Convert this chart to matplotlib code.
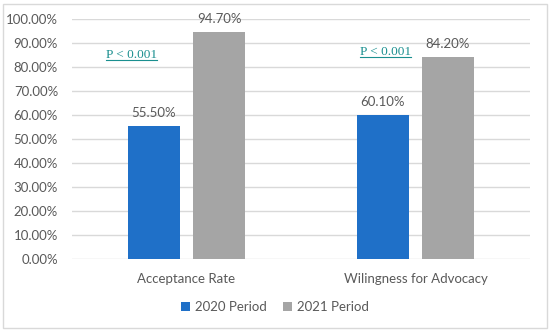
import numpy as np
import matplotlib
matplotlib.use("Agg")
import matplotlib.pyplot as plt
from matplotlib.patches import Rectangle

########################################################
# DATA
########################################################

CATEGORIES = ["Acceptance Rate", "Wilingness for Advocacy"]
SERIES = ["2020 Period", "2021 Period"]
VALUES_2020 = [55.50, 60.10]
VALUES_2021 = [94.70, 84.20]
P_LABELS = ["P < 0.001", "P < 0.001"]
P_POS = [(-0.24, 82.3), (0.87, 83.6)]

COLORS = ["#1F70C8", "#A5A5A5"]
TEXT_GRAY = "#595959"
TEAL = "#1A8F8F"

plt.rcParams["font.family"] = ["Lato", "DejaVu Sans"]

########################################################
# FIGURE
########################################################

fig = plt.figure(figsize=(5.5, 3.32), dpi=100)
ax = fig.add_axes([72 / 550, 1 - 259 / 332, 458 / 550, 240 / 332])

x = np.arange(len(CATEGORIES))
width = 0.223
offset = 0.142

for i, (vals, name) in enumerate(zip([VALUES_2020, VALUES_2021], SERIES)):
    pos = x + (offset if i else -offset)
    bars = ax.bar(pos, vals, width, color=COLORS[i], label=name, zorder=3)
    for b, v in zip(bars, vals):
        ax.text(b.get_x() + b.get_width() / 2, v + 3, f"{v:.2f}%",
                ha="center", va="bottom", fontsize=9.5, color=TEXT_GRAY)

ax.set_xlim(-0.5, 1.5)
ax.set_ylim(0, 100)
ax.set_yticks(np.arange(0, 101, 10))
ax.set_yticklabels([f"{t:.2f}%" for t in range(0, 101, 10)])
ax.set_xticks(x)
ax.set_xticklabels(CATEGORIES)
ax.tick_params(axis="both", length=0, colors=TEXT_GRAY, labelsize=9.5)
ax.tick_params(axis="x", pad=10)
ax.tick_params(axis="y", pad=10)
ax.grid(axis="y", color="#D9D9D9", linewidth=1, zorder=0)
for s in ax.spines.values():
    s.set_visible(False)

# p-value notes, underlined
texts = []
for (px, py), lab in zip(P_POS, P_LABELS):
    t = ax.text(px, py, lab, ha="center", va="bottom", fontsize=9.5,
                color=TEAL, family="Liberation Serif")
    texts.append(t)

fig.canvas.draw()
inv = ax.transData.inverted()
for t in texts:
    bb = t.get_window_extent()
    (x0, y0), (x1, _) = inv.transform([(bb.x0, bb.y0 + 1), (bb.x1, bb.y0)])
    ax.plot([x0, x1], [y0, y0], color=TEAL, linewidth=0.8, zorder=4)

leg = fig.legend(loc="center", bbox_to_anchor=(0.5, 1 - 307 / 332), ncol=2,
                 frameon=False, fontsize=9.5, handlelength=0.7,
                 handleheight=0.7, columnspacing=1.2, handletextpad=0.4)
for txt in leg.get_texts():
    txt.set_color(TEXT_GRAY)

# outer border
fig.patches.append(Rectangle((3 / 550, 4 / 332), 544 / 550, 324 / 332,
                             transform=fig.transFigure, fill=False,
                             edgecolor="#D9D9D9", linewidth=1))

plt.savefig("out.png", dpi=100)
